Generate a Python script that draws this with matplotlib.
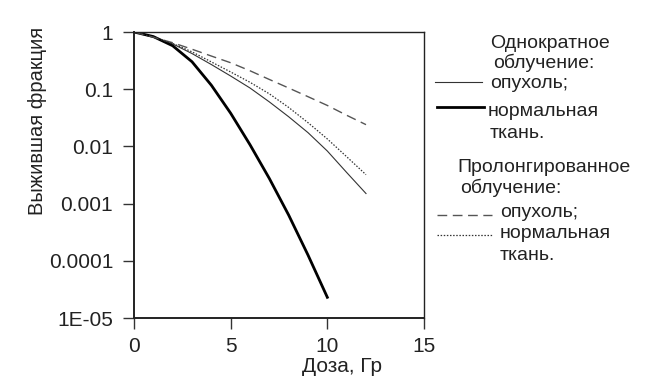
import numpy as np
import matplotlib.pyplot as plt
from matplotlib.ticker import FixedLocator, FixedFormatter, NullLocator

plt.rcParams['font.family'] = ['Liberation Sans', 'DejaVu Sans']

# доза, Гр
dose = [0, 1, 2, 3, 4, 5, 6, 7, 8, 9, 10, 11, 12]
dose_single_normal = [0, 1, 2, 3, 4, 5, 6, 7, 8, 9, 10]

# выжившая фракция
single_tumor = [1, 0.81, 0.62, 0.42, 0.27, 0.17, 0.105, 0.060, 0.033, 0.0174, 0.0083, 0.0035, 0.0015]
single_normal = [1, 0.832, 0.575, 0.302, 0.1175, 0.038, 0.0107, 0.00275, 6.3e-4, 1.26e-4, 2.3e-5]
prolonged_tumor = [1, 0.81, 0.65, 0.50, 0.38, 0.29, 0.21, 0.148, 0.105, 0.074, 0.052, 0.035, 0.024]
prolonged_normal = [1, 0.81, 0.63, 0.45, 0.30, 0.20, 0.132, 0.083, 0.048, 0.026, 0.0135, 0.0066, 0.0032]

yticks = [1, 0.1, 0.01, 0.001, 0.0001, 1e-5]
ytick_labels = ['1', '0.1', '0.01', '0.001', '0.0001', '1E-05']
xticks = [0, 5, 10, 15]

txt = '#222222'

fig = plt.figure(figsize=(6.46, 3.81), dpi=100)
ax = fig.add_axes([134/646, 1-318/381, 290/646, 286/381])

ax.plot(dose, single_tumor, color='#333333', lw=0.8)
ax.plot(dose_single_normal, single_normal, color='black', lw=2.0)
ax.plot(dose, prolonged_tumor, color='#555555', lw=1.0, dashes=(7, 4))
ax.plot(dose, prolonged_normal, color='#333333', lw=0.9, dashes=(1.2, 1.3))

ax.set_yscale('log')
ax.set_ylim(1e-5, 1)
ax.set_xlim(0, 15)
ax.yaxis.set_major_locator(FixedLocator(yticks))
ax.yaxis.set_major_formatter(FixedFormatter(ytick_labels))
ax.yaxis.set_minor_locator(NullLocator())
ax.set_xticks(xticks)
ax.tick_params(direction='out', length=8, width=1, colors='#333333',
               labelcolor=txt, labelsize=15)
ax.tick_params(axis='y', pad=7)
ax.tick_params(axis='x', pad=6)
for s in ax.spines.values():
    s.set_color('#222222')
    s.set_linewidth(1.0)
ax.spines['left'].set_linewidth(1.4)
ax.spines['bottom'].set_linewidth(1.4)

ax.set_ylabel('Выжившая фракция', fontsize=14.5, color=txt)
ax.yaxis.set_label_coords(-0.30, 0.69)
ax.set_xlabel('Доза, Гр', fontsize=15, color=txt)
ax.xaxis.set_label_coords(0.717, -0.135)

# легенда вручную
def fy(py):
    return 1 - py/381

def fx(px):
    return px/646

fs = 14
fig.text(fx(490), fy(43), 'Однократное', fontsize=fs, color=txt, va='center')
fig.text(fx(493), fy(63), 'облучение:', fontsize=fs, color=txt, va='center')
fig.text(fx(490), fy(83), 'опухоль;', fontsize=fs, color=txt, va='center')
fig.text(fx(488), fy(111), 'нормальная', fontsize=fs, color=txt, va='center')
fig.text(fx(490), fy(133), 'ткань.', fontsize=fs, color=txt, va='center')
fig.text(fx(457), fy(168), 'Пролонгированное', fontsize=fs, color=txt, va='center')
fig.text(fx(460), fy(188), 'облучение:', fontsize=fs, color=txt, va='center')
fig.text(fx(500), fy(212), 'опухоль;', fontsize=fs, color=txt, va='center')
fig.text(fx(500), fy(234), 'нормальная', fontsize=fs, color=txt, va='center')
fig.text(fx(500), fy(256), 'ткань.', fontsize=fs, color=txt, va='center')

fig.add_artist(plt.Line2D([fx(435), fx(482)], [fy(82), fy(82)], color='#333333', lw=0.8))
fig.add_artist(plt.Line2D([fx(437), fx(484)], [fy(107), fy(107)], color='black', lw=2.0))
fig.add_artist(plt.Line2D([fx(437), fx(492)], [fy(215), fy(215)], color='#555555', lw=1.0, dashes=(7, 4)))
fig.add_artist(plt.Line2D([fx(437), fx(492)], [fy(235), fy(235)], color='#333333', lw=0.9, dashes=(1.2, 1.3)))

fig.savefig('out.png', dpi=100)
